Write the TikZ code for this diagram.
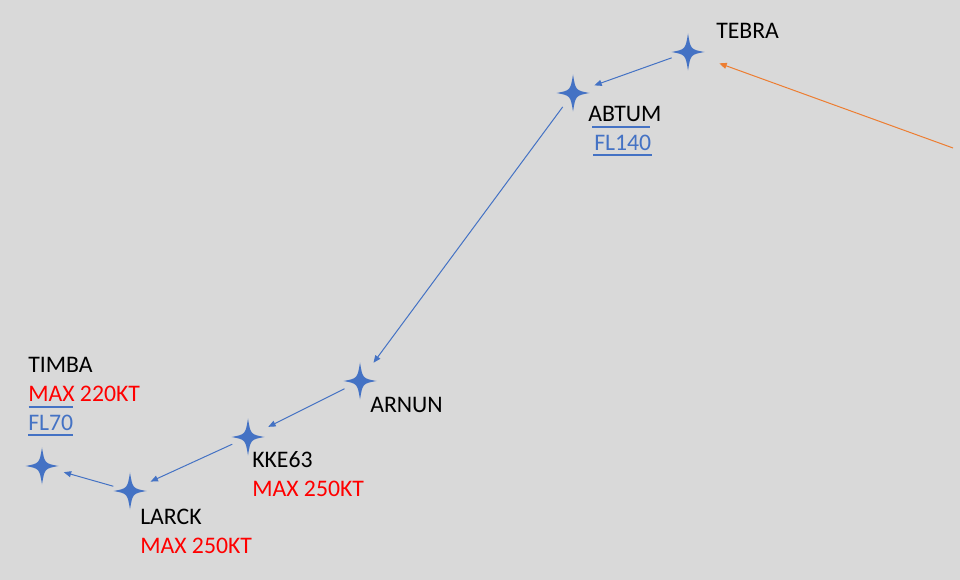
\documentclass[tikz,border=0pt]{standalone}
\usepackage{fontspec}
\setmainfont{Carlito}
\usetikzlibrary{arrows.meta}
\definecolor{wptblue}{HTML}{4472C4}
\definecolor{feedorange}{HTML}{ED7D31}
\definecolor{bggray}{HTML}{D9D9D9}
\definecolor{spdred}{HTML}{FF0000}

\begin{document}
\begin{tikzpicture}[x=0.75pt, y=-0.75pt,
    % --- 样式定义 ---
    wpt/.style={fill=wptblue, draw=none},
    leg/.style={draw=wptblue, line width=0.75pt, shorten <=13pt, shorten >=17pt,
        -{Triangle[length=5.5pt, width=4.5pt]}},
    feed/.style={draw=feedorange, line width=0.75pt, shorten >=25pt,
        -{Triangle[length=5.5pt, width=4.5pt]}},
    wname/.style={anchor=base west, inner sep=0pt, font=\fontsize{17.8}{21}\selectfont},
    spd/.style={wname, text=spdred},
    alt/.style={wname, text=wptblue},
    altbar/.style={draw=wptblue, line width=1.5pt}
]
    % 背景与边界
    \fill[bggray] (0,0) rectangle (960,580);
    \useasboundingbox (0,0) rectangle (960,580);

    % =========================================
    % 航路点坐标
    % =========================================
    \coordinate (tebra) at (688, 52);
    \coordinate (abtum) at (573, 93);
    \coordinate (arnun) at (360,381);
    \coordinate (kke63) at (248,437);
    \coordinate (larck) at (130,491);
    \coordinate (timba) at ( 42,466);
    \coordinate (entry) at (953,148); % 进场线外端

    % 四角星
    \foreach \wp in {tebra,abtum,arnun,kke63,larck,timba}
        \fill[wpt, shift={(\wp)}] (0,-18.5)
            .. controls (2.6,-2.6) and (2.6,-2.6) .. (16.5,0)
            .. controls (2.6,2.6) and (2.6,2.6) .. (0,18.5)
            .. controls (-2.6,2.6) and (-2.6,2.6) .. (-16.5,0)
            .. controls (-2.6,-2.6) and (-2.6,-2.6) .. cycle;

    % =========================================
    % 航段
    % =========================================
    \draw[feed] (entry) -- (tebra);
    \draw[leg] (tebra) -- (abtum);
    \draw[leg] (abtum) -- (arnun);
    \draw[leg] (arnun) -- (kke63);
    \draw[leg] (kke63) -- (larck);
    \draw[leg] (larck) -- (timba);

    % =========================================
    % 标注
    % =========================================
    \node[wname] (tebra_n) at (716, 39) {TEBRA};

    \node[wname] (abtum_n) at (588,122) {ABTUM};
    \node[alt]   (abtum_a) at (594,151) {FL140};
    \draw[altbar] ([xshift=-1.5pt, yshift=6pt]abtum_a.north west) -- ([xshift=-1.5pt, yshift=6pt]abtum_a.north east);
    \draw[altbar] ([xshift=-0.5pt, yshift=-3pt]abtum_a.south west) -- ([yshift=-3pt]abtum_a.south east);

    \node[wname] (arnun_n) at (370,413) {ARNUN};

    \node[wname] (kke63_n) at (252,468) {KKE63};
    \node[spd]   (kke63_s) at (252,497) {MAX 250KT};

    \node[wname] (larck_n) at (140,524) {LARCK};
    \node[spd]   (larck_s) at (140,553) {MAX 250KT};

    \node[wname] (timba_n) at (28,373) {TIMBA};
    \node[spd]   (timba_s) at (28,402) {MAX 220KT};
    \node[alt]   (timba_a) at (28,431) {FL70};
    \draw[altbar] ([xshift=0.5pt, yshift=6pt]timba_a.north west) -- ([xshift=-0.5pt, yshift=6pt]timba_a.north east);
    \draw[altbar] ([yshift=-3pt]timba_a.south west) -- ([yshift=-3pt]timba_a.south east);

\end{tikzpicture}
\end{document}
